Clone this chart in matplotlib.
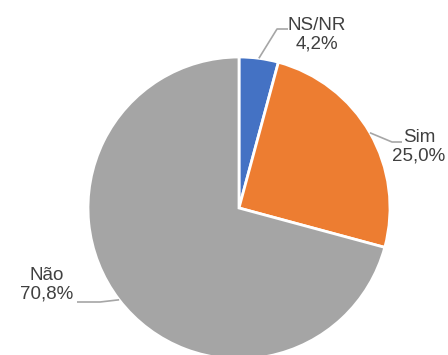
import numpy as np
import matplotlib

matplotlib.use("Agg")
import matplotlib.pyplot as plt

plt.rcParams["font.family"] = ["Liberation Sans Narrow", "Liberation Sans", "DejaVu Sans"]

labels = ["NS/NR", "Sim", "Não"]
values = [4.2, 25.0, 70.8]
colors = ["#4472C4", "#ED7D31", "#A5A5A5"]

W, H = 448, 355
CX, CY, R = 239, 208, 151          # pie centre / radius in pixels

fig = plt.figure(figsize=(W / 100, H / 100), dpi=100)
ax = fig.add_axes([0, 0, 1, 1])
ax.pie(values, colors=colors, startangle=90, counterclock=False, radius=1,
       wedgeprops=dict(edgecolor="white", linewidth=2))
ax.set_xlim(-CX / R, (W - CX) / R)
ax.set_ylim(-(H - CY) / R, CY / R)
ax.set_aspect("equal")
ax.axis("off")


def px(x, y):
    return (x - CX) / R, (CY - y) / R


# label block centre, elbow point and end of the horizontal leader (pixels)
label_pos = {
    "NS/NR": ((317, 35), (277, 29), (288, 29)),
    "Sim": ((419, 147), (392, 142), (402, 142)),
    "Não": ((47, 285), (100, 302), (77, 302)),
}

start = 90.0
for lab, v in zip(labels, values):
    sweep = v * 3.6
    mid = np.radians(start - sweep / 2)
    start -= sweep
    ex, ey = np.cos(mid), np.sin(mid)
    (tx, ty), elbow, end = label_pos[lab]
    pts = [(ex, ey), px(*elbow), px(*end)]
    ax.plot([p[0] for p in pts], [p[1] for p in pts], color="#A6A6A6", lw=1.2,
            solid_capstyle="butt")
    ax.text(*px(tx, ty), f"{lab}\n{v:.1f}%".replace(".", ","), ha="center",
            va="center", fontsize=13.5, color="#404040", linespacing=1.15)

fig.savefig("out.png", dpi=100)
